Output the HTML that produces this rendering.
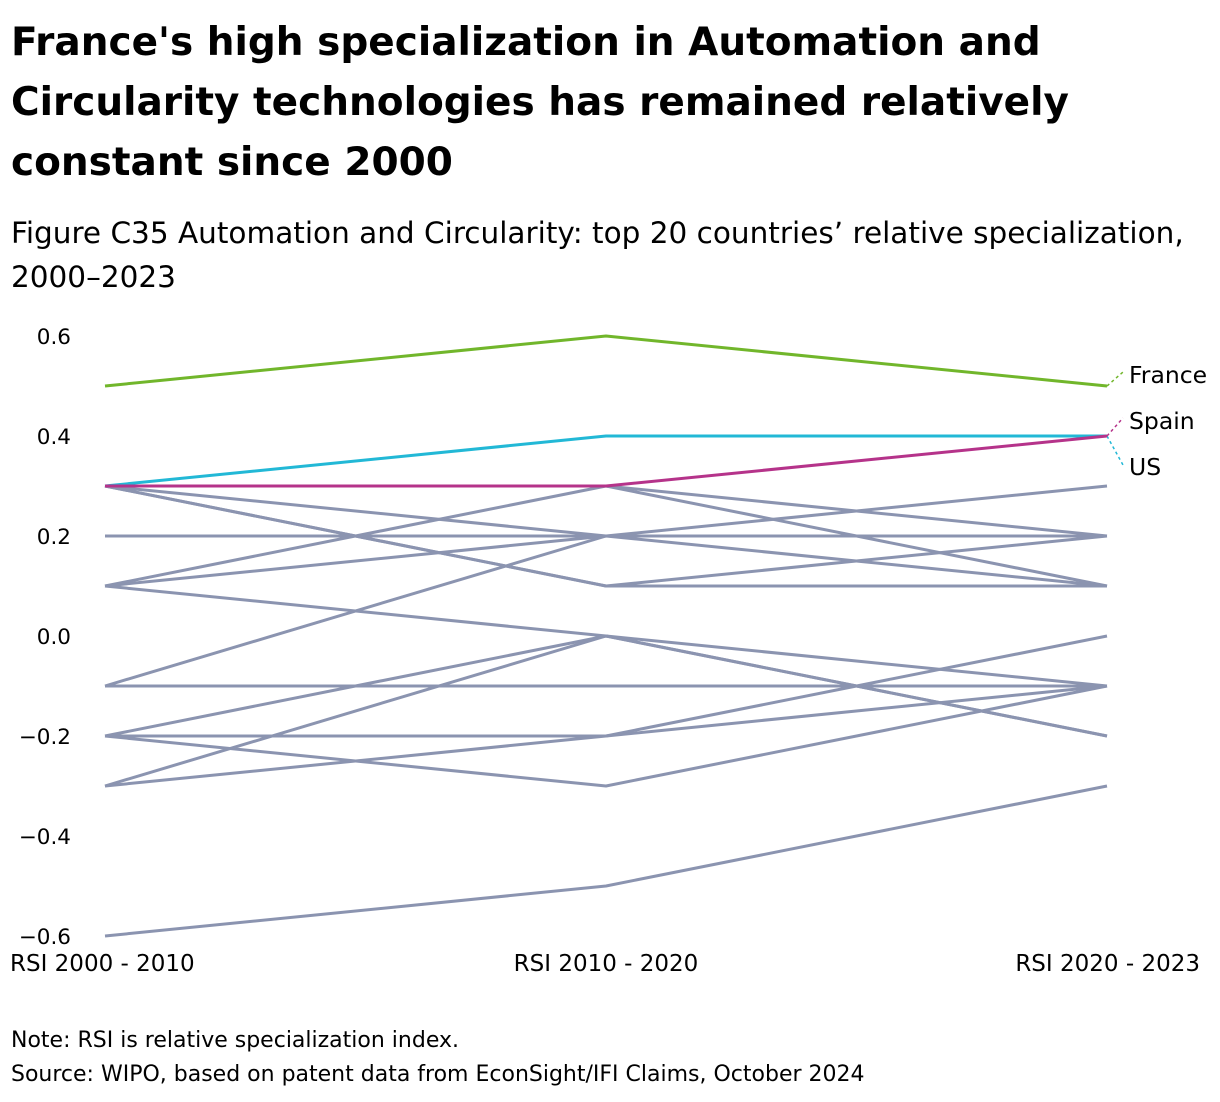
<!DOCTYPE html>
<html><head><meta charset="utf-8"><style>
body{margin:0;background:#fff;font-family:"DejaVu Sans","Liberation Sans",sans-serif;color:#000}
#title{position:absolute;left:11px;top:13px;font-size:39px;font-weight:bold;line-height:60px;white-space:nowrap}
#sub{position:absolute;left:11px;top:211px;font-size:29.5px;line-height:44px;white-space:nowrap}
#note{position:absolute;left:11px;top:1024px;font-size:22px;line-height:34px;white-space:nowrap}
svg{position:absolute;left:0;top:0;font-family:"DejaVu Sans","Liberation Sans",sans-serif}
</style></head><body>
<div id="title">France's high specialization in Automation and<br>Circularity technologies has remained relatively<br>constant since 2000</div>
<div id="sub">Figure C35 Automation and Circularity: top 20 countries’ relative specialization,<br>2000–2023</div>
<div id="note">Note: RSI is relative specialization index.<br>Source: WIPO, based on patent data from EconSight/IFI Claims, October 2024</div>
<svg id="chart" width="1220" height="1102"></svg>
<script>
const periods = ["RSI 2000 - 2010","RSI 2010 - 2020","RSI 2020 - 2023"];
const yTicks = [0.6,0.4,0.2,0.0,-0.2,-0.4,-0.6];
const yTickLabels = ["0.6","0.4","0.2","0.0","\u22120.2","\u22120.4","\u22120.6"];
const greySeries = [
 [0.1,0.3,0.1],[0.3,0.3,0.2],
 [0.3,0.2,0.3],[0.2,0.2,0.2],[0.1,0.2,0.1],[-0.1,0.2,0.2],
 [0.3,0.1,0.1],[0.3,0.1,0.2],
 [0.1,0.0,-0.2],[-0.2,0.0,-0.1],[-0.3,0.0,-0.2],
 [-0.1,-0.1,-0.1],[-0.1,-0.1,-0.1],
 [-0.2,-0.2,0.0],[-0.3,-0.2,-0.1],
 [-0.2,-0.3,-0.1],
 [-0.6,-0.5,-0.3]
];
const highlightNames = ["US","Spain","France"];
const highlightValues = [[0.3,0.4,0.4],[0.3,0.3,0.4],[0.5,0.6,0.5]];
const highlightColors = ["#22b8d6","#b5338a","#71b62b"];
const labelY = {France:375,Spain:421,US:467};

const svg = document.getElementById('chart');
const NS = "http://www.w3.org/2000/svg";
const xPos = i => 105 + i*501;
const yPos = v => 636 - v*500;
function mk(t, a){const e=document.createElementNS(NS,t);for(const k in a)e.setAttribute(k,a[k]);svg.appendChild(e);return e;}

yTicks.forEach((v,i)=>{
  const t = mk('text',{x:71,y:yPos(v)+8,'text-anchor':'end','font-size':21.5});
  t.textContent = yTickLabels[i];
  
  
});
periods.forEach((p,i)=>{
  const anchor = i===0?'start':(i===2?'end':'middle');
  const x = i===0?10:(i===2?1200:xPos(i));
  const t = mk('text',{x:x,y:971,'text-anchor':anchor,'font-size':23});
  t.textContent = p;
  
  
});
greySeries.forEach(s=>{
  const l = mk('polyline',{points:s.map((v,i)=>xPos(i)+','+yPos(v)).join(' '),fill:'none',stroke:'#8b94b0','stroke-width':3,'stroke-linejoin':'round'});
  
  
});
highlightValues.forEach((s,k)=>{
  const name = highlightNames[k];
  const l = mk('polyline',{points:s.map((v,i)=>xPos(i)+','+yPos(v)).join(' '),fill:'none',stroke:highlightColors[k],'stroke-width':3,'stroke-linejoin':'round'});
  
  
  const ly = labelY[name];
  const ex = xPos(2), ey = yPos(s[2]);
  const d = mk('line',{x1:ex,y1:ey,x2:1123,y2:ly<ey?ly-3:ly-2,stroke:highlightColors[k],'stroke-width':1.5,'stroke-dasharray':'3,3'});
  
  
  const t = mk('text',{x:1129,y:ly+8,'font-size':23.5});
  t.textContent = name;
  
  
});
</script>
</body></html>
